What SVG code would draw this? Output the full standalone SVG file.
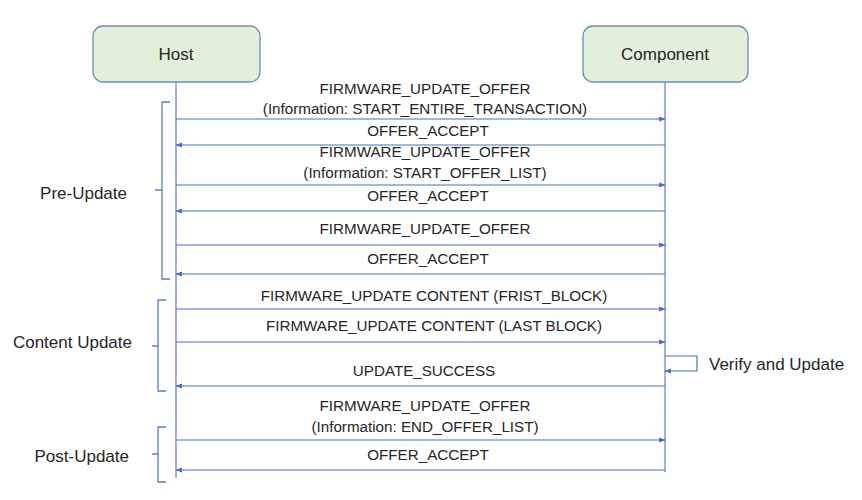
<svg xmlns="http://www.w3.org/2000/svg" width="862" height="500" viewBox="0 0 862 500">
  <defs>
    <marker id="arrow" viewBox="0 0 8 8" refX="7" refY="4" markerWidth="7" markerHeight="7" markerUnits="userSpaceOnUse" orient="auto">
      <path d="M0,1 L8,4 L0,7 Z" fill="#4a72c0"/>
    </marker>
    <style>
      .box { fill: #e2efda; stroke: #6b8fb5; stroke-width: 1.3; }
      .life { stroke: #6a8ccc; stroke-width: 1.3; fill: none; }
      .msg { stroke: #4a72c0; stroke-width: 1.2; fill: none; marker-end: url(#arrow); }
      .brace { stroke: #5a7fc2; stroke-width: 1.3; fill: none; }
      text { font-family: "Liberation Sans", Arial, sans-serif; font-size: 15.2px; fill: #262626; }
      .big { font-size: 17px; }
      .c { text-anchor: middle; }
      .r { text-anchor: end; }
    </style>
  </defs>
  <rect width="862" height="500" fill="#ffffff"/>

  <!-- participants -->
  <g id="host">
    <rect class="box" x="93" y="26" width="167" height="56" rx="10"/>
    <text class="c big" x="176" y="60">Host</text>
  </g>
  <g id="component">
    <rect class="box" x="583" y="26" width="165" height="56" rx="10"/>
    <text class="c big" x="665" y="60">Component</text>
  </g>

  <!-- lifelines and messages -->
  <g id="connectors">
    <line class="life" x1="176" y1="82" x2="176" y2="478"/>
    <line class="life" x1="665" y1="82" x2="665" y2="472"/>

    <line class="msg" x1="176" y1="119" x2="665" y2="119"/>
    <line class="msg" x1="665" y1="145" x2="176" y2="145"/>
    <line class="msg" x1="176" y1="185" x2="665" y2="185"/>
    <line class="msg" x1="665" y1="211" x2="176" y2="211"/>
    <line class="msg" x1="176" y1="245" x2="665" y2="245"/>
    <line class="msg" x1="665" y1="274" x2="176" y2="274"/>
    <line class="msg" x1="176" y1="309" x2="665" y2="309"/>
    <line class="msg" x1="176" y1="342" x2="665" y2="342"/>
    <polyline class="msg" points="665,356 697,356 697,371 665,371"/>
    <line class="msg" x1="665" y1="386" x2="176" y2="386"/>
    <line class="msg" x1="176" y1="440" x2="665" y2="440"/>
    <line class="msg" x1="665" y1="470" x2="176" y2="470"/>
  </g>

  <!-- message labels -->
  <g id="labels">
    <text class="c" x="425" y="94">FIRMWARE_UPDATE_OFFER</text>
    <text class="c" x="425" y="114">(Information: START_ENTIRE_TRANSACTION)</text>
    <text class="c" x="428" y="136">OFFER_ACCEPT</text>
    <text class="c" x="425" y="157">FIRMWARE_UPDATE_OFFER</text>
    <text class="c" x="425" y="178">(Information: START_OFFER_LIST)</text>
    <text class="c" x="428" y="201">OFFER_ACCEPT</text>
    <text class="c" x="425" y="234">FIRMWARE_UPDATE_OFFER</text>
    <text class="c" x="428" y="264">OFFER_ACCEPT</text>
    <text class="c" x="434" y="301">FIRMWARE_UPDATE CONTENT (FRIST_BLOCK)</text>
    <text class="c" x="434" y="331">FIRMWARE_UPDATE CONTENT (LAST BLOCK)</text>
    <text class="big" x="709" y="370">Verify and Update</text>
    <text class="c" x="424" y="376">UPDATE_SUCCESS</text>
    <text class="c" x="425" y="411">FIRMWARE_UPDATE_OFFER</text>
    <text class="c" x="425" y="432">(Information: END_OFFER_LIST)</text>
    <text class="c" x="428" y="460">OFFER_ACCEPT</text>
  </g>

  <!-- phase brackets -->
  <g id="pre-update">
    <path class="brace" d="M170,102 H162 V279 H170 M162,190 H155"/>
    <text class="r big" x="127" y="199">Pre-Update</text>
  </g>
  <g id="content-update">
    <path class="brace" d="M166,300 H158 V391 H166 M158,346 H152"/>
    <text class="r big" x="132" y="348">Content Update</text>
  </g>
  <g id="post-update">
    <path class="brace" d="M166,427 H158 V482 H166 M158,454 H152"/>
    <text class="r big" x="129" y="462">Post-Update</text>
  </g>
</svg>
